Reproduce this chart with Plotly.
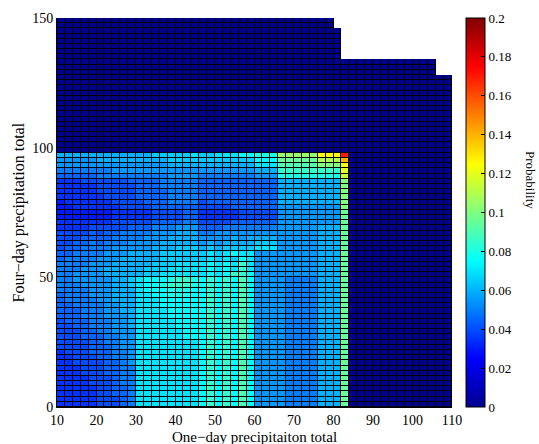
import numpy as np
import plotly.graph_objects as go

# ---------------- data ----------------
# bin edges of the two precipitation totals
x_edges = list(range(10, 112, 2))   # one-day total, 50 bins
y_edges = list(range(0, 152, 2))    # four-day total, 75 bins

# ragged upper limit of the defined grid (left edge of column -> top of data)
top_x = [10, 80, 82, 106]
top_y = [150, 146, 134, 128]

background_prob = 0.0

# probability codes (base-36 char * 0.005) for the populated block
# columns x = 10..84 (37 bins), rows listed from y = 96-98 (top) down to y = 0-2
prob_rows_top_down = [
    "ccccc ccccc ccddddde ddeeeff ggg lllll ppp y",
    "bbbbb ccccc ccccdddd ddddddd fff jjjjj mmm s",
    "bbbbb bbbbb bbbbcccc ccccccc eee iiiii kkk p",
    "aaaaa aabbb bbbbbbbb bbbbbbb ccc hhhhh hhh o",
    "99999 aaaaa aaaabbbb aaaaaaa bbb ggggg ggg n",
    "77788 88889 999aaaaa 9999999 999 ccccc ccc k",
    "77777 88888 999aaaaa 9999999 999 ccccc ccc k",
    "77777 88888 9999aaaa 9999999 999 ccccc ccc k",
    "77777 78888 9999aaaa 9999999 999 ccccc ccc k",
    "67777 77888 8999aaaa 8999999 999 ccccc ccc k",
    "66777 77788 88999999 8888999 999 bbbbb bbb k",
    "66666 66777 77888899 7777788 888 bbbbb bbb j",
    "66666 66777 77888899 7777788 888 bbbbb bbb j",
    "77777 77888 889999aa 8888999 999 bbbbb bbb j",
    "77778 88889 99aaabbb 999aaaa aaa bbbbb ccc j",
    "88889 899aa aabbbccc aabbbbb bbb bbbbb ccc j",
    "88899 99aaa abbbcccc bbbbcbc ccc bbbbb ccc j",
    "8899a 9aaab bbbccccc bcbcccc ddd bbbbb ccc j",
    "899aa aabbb bbcccddd cdcdddd eee bbbbb ccc j",
    "99aaa abbbc cccddddd dedefee bbb bbbbb ccc j",
    "9aaaa bbbcc cccddddd dededfe bbb bbbbb ccc j",
    "aaaab bbccc ccdddeee efefehe bbb bbbbb ccc j",
    "aaabb bcccc cdddeeee efefehe bbb bbbbb ccc j",
    "aabbb bcccc cddeeeee efefhhf bbb bbbbb ccc j",
    "aabbb bbccd efffghhg fhfhfif bbb baaaa ccc j",
    "aaabb bbccd effghhhg fhfhfif bbb baaaa ccc j",
    "aaaab bbccc efffgggf fhfhfif bbb baaaa ccc j",
    "9aaab bbccc eeffgggf fhfhfif bbb baaaa ccc j",
    "9aaaa bbccc eeefffff fhfhfif bbb baaaa ccc j",
    "99aaa abbcc eeefffff fhfhfif bbb baaaa ccc j",
    "999aa abbcc eeeeffff fhfhfif bbb baaaa ccc j",
    "999aa abbbc eeeeffff fhfhfif bbb baaaa ccc j",
    "8999a aabbc eeeeefff fhfhfif bbb baaaa ccc j",
    "8899a aabbc eeeeefff fhfhfif bbb baaaa ccc j",
    "88899 aabbb eeeeeeff fhfhfif bbb baaaa ccc j",
    "88899 9aabb eeeeeeff fhfhfif bbb baaaa ccc j",
    "88889 9aabb eeeeeeee fhfhfif bbb baaaa ccc j",
    "88889 99abb eeeeeeee fhfhfif bbb baaaa ccc j",
    "78889 99aab eeeeeeee fhfhfif bbb baaaa ccc j",
    "77888 99aab eeeeeeee fhfhfif bbb baaaa ccc j",
    "77888 899ab eeeeeeee fhfhfif bbb baaaa ccc j",
    "77788 899aa eeeeeeee fhfhfif bbb baaaa ccc j",
    "77788 899aa eeeeeeee fhfhfif bbb baaaa ccc j",
    "77778 889aa eeeeeeee fhfhfif bbb baaaa ccc j",
    "77778 889aa eeeeeeee fhfhfif bbb baaaa ccc j",
    "77777 8899a eeeeeeee fhfhfif bbb baaaa ccc j",
    "77777 8899a eeeeeeee fhfhfif bbb baaaa ccc j",
    "77777 8889a eeeeeeee fhfhfif bbb baaaa ccc j",
    "77777 8889a eeeeeeee fhfhfif bbb baaaa ccc j",
]
code_step = 0.005

cbar_ticks = [0, 0.02, 0.04, 0.06, 0.08, 0.1, 0.12, 0.14, 0.16, 0.18, 0.2]
cbar_labels = ["0", "0.02", "0.04", "0.06", "0.08", "0.1", "0.12", "0.14", "0.16", "0.18", "0.2"]
x_ticks = [10, 20, 30, 40, 50, 60, 70, 80, 90, 100, 110]
y_ticks = [0, 50, 100, 150]
x_title = "One\u2212day precipitaiton total"
y_title = "Four\u2212day precipitation total"
cbar_title = "Probability"

# ---------------- build grid ----------------
nx = len(x_edges) - 1
ny = len(y_edges) - 1
z = np.full((ny, nx), np.nan)
for ci in range(nx):
    xl = x_edges[ci]
    top = top_y[0]
    for tx, ty in zip(top_x, top_y):
        if xl >= tx:
            top = ty
    for ri in range(ny):
        if y_edges[ri] < top:
            z[ri, ci] = background_prob

rows_bottom_up = [r.replace(" ", "") for r in prob_rows_top_down][::-1]
for ri, row in enumerate(rows_bottom_up):
    for ci, ch in enumerate(row):
        z[ri, ci] = int(ch, 36) * code_step

mask = np.where(np.isnan(z), np.nan, 1.0)

jet = [
    [0.0, "#00008F"],
    [0.125, "#0000FF"],
    [0.375, "#00FFFF"],
    [0.625, "#FFFF00"],
    [0.875, "#FF0000"],
    [1.0, "#800000"],
]

FONT = "Liberation Serif"
PW, PH = 395, 389  # plot area size in px

fig = go.Figure()
fig.add_trace(go.Heatmap(
    x=x_edges, y=y_edges, z=mask,
    colorscale=[[0, "#000000"], [1, "#000000"]],
    zmin=0, zmax=1, showscale=False, hoverinfo="skip",
))
fig.add_trace(go.Heatmap(
    x=x_edges, y=y_edges, z=z,
    colorscale=jet, zmin=0, zmax=0.2,
    xgap=1, ygap=1,
    colorbar=dict(
        x=(466 - 57) / PW, xanchor="left", xpad=0, ypad=0,
        y=0.5, yanchor="middle", len=1, lenmode="fraction",
        thickness=19, outlinewidth=1, outlinecolor="black",
        tickvals=cbar_ticks, ticktext=cbar_labels,
        ticks="inside", ticklen=4, tickcolor="black",
        tickfont=dict(family=FONT, size=13, color="black"),
    ),
))

fig.add_annotation(
    text=cbar_title, x=(531 - 57) / PW, y=(407 - 180) / PH,
    xref="paper", yref="paper", showarrow=False, textangle=90,
    xanchor="center", yanchor="middle",
    font=dict(family=FONT, size=13, color="black"),
)
fig.add_annotation(
    text=x_title, x=0.5, y=(407 - 437) / PH,
    xref="paper", yref="paper", showarrow=False,
    xanchor="center", yanchor="middle",
    font=dict(family=FONT, size=15, color="black"),
)
fig.add_annotation(
    text=y_title, x=(18 - 57) / PW, y=0.5,
    xref="paper", yref="paper", showarrow=False, textangle=-90,
    xanchor="center", yanchor="middle",
    font=dict(family=FONT, size=16, color="black"),
)

fig.update_layout(
    width=539, height=444,
    margin=dict(l=57, r=87, t=18, b=37),
    paper_bgcolor="white", plot_bgcolor="white",
    font=dict(family=FONT, size=14, color="black"),
    xaxis=dict(
        range=[10, 110], tickvals=x_ticks, showgrid=False, zeroline=False,
        showline=True, linecolor="black", linewidth=1, ticks="",
        tickfont=dict(family=FONT, size=14), automargin=False,
    ),
    yaxis=dict(
        range=[0, 150], tickvals=y_ticks, showgrid=False, zeroline=False,
        showline=True, linecolor="black", linewidth=1, ticks="",
        tickfont=dict(family=FONT, size=14), automargin=False,
    ),
)

fig.write_html("out.html")
